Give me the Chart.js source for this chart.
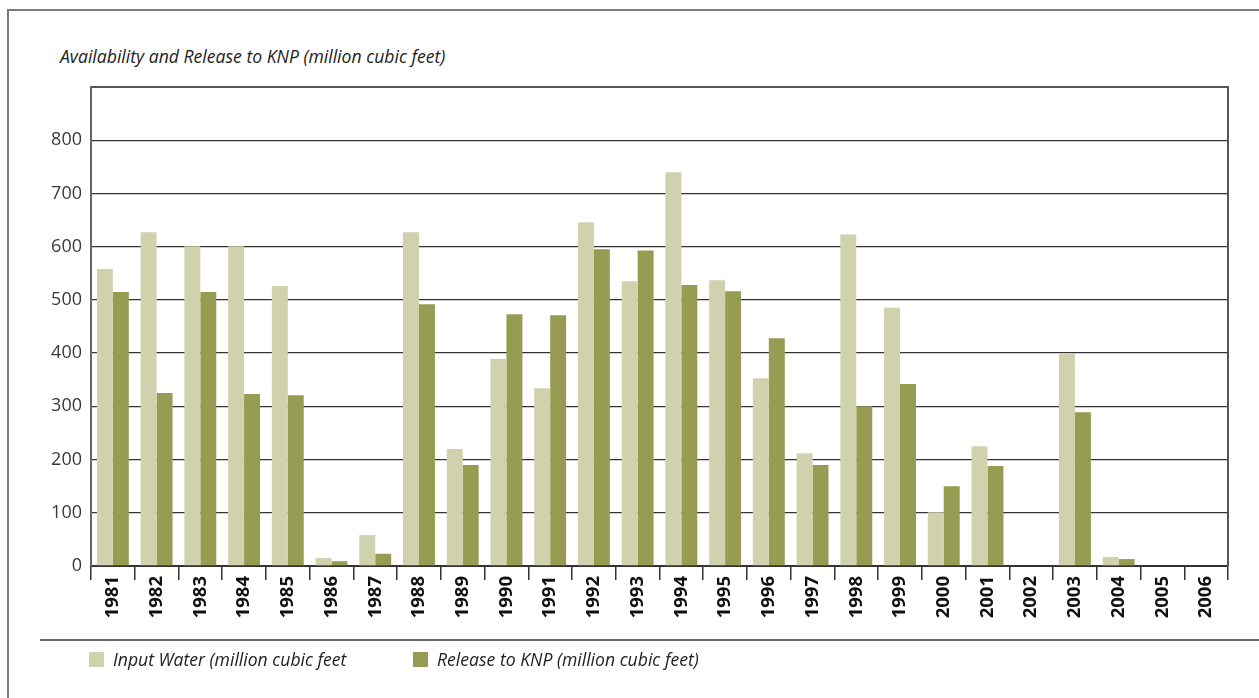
<!DOCTYPE html>
<html>
<head>
<meta charset="utf-8">
<script src="https://cdn.jsdelivr.net/npm/chart.js@4.4.0/dist/chart.umd.min.js"></script>
<style>
    body { margin: 0; background: #fff; font-family: "Open Sans", sans-serif; }
    .page { position: relative; width: 1259px; height: 698px; overflow: hidden; }
    .frame { position: absolute; left: 7px; top: 9px; width: 1260px; height: 700px;
             border-left: 2px solid #7a7a7a; border-top: 2px solid #7a7a7a; }
    .title { position: absolute; left: 60px; top: 45px; font-size: 17.6px; line-height: 22px;
             font-style: italic; color: #222; white-space: nowrap; }
    .sep { position: absolute; left: 40px; top: 639px; width: 1219px; height: 0;
           border-top: 2px solid #6a6a6a; }
    .legend-item { position: absolute; top: 648px; font-size: 17.6px; line-height: 22px;
                   font-style: italic; color: #222; white-space: nowrap; }
    .legend-item span { position: absolute; left: 0; top: 4px; width: 15px; height: 15px; }
    .legend-item b { font-weight: normal; position: absolute; left: 24px; top: 0; }
    .chart-box { position: absolute; left: 0; top: 0; width: 1259px; height: 698px; }
</style>
</head>
<body>
<div class="page">
    <div class="frame"></div>
    <div class="title">Availability and Release to KNP (million cubic feet)</div>
    <div class="chart-box"><canvas id="chart"></canvas></div>
    <div class="sep"></div>
    <div class="legend-item" id="leg1" style="left:89px"><span></span><b></b></div>
    <div class="legend-item" id="leg2" style="left:413px"><span></span><b></b></div>
</div>
<script>
// 年份
const years = ['1981', '1982', '1983', '1984', '1985', '1986', '1987', '1988', '1989', '1990',
    '1991', '1992', '1993', '1994', '1995', '1996', '1997', '1998', '1999', '2000',
    '2001', '2002', '2003', '2004', '2005', '2006'];

// 进水量
const inputWater = [558, 627, 601, 601, 526, 15, 58, 627, 220, 389,
    334, 646, 535, 740, 537, 353, 212, 623, 485, 101,
    225, 0, 400, 17, 0, 0];

// 放水量
const releaseKNP = [515, 325, 515, 323, 321, 9, 23, 492, 190, 473,
    471, 595, 593, 528, 516, 428, 190, 300, 342, 150,
    188, 0, 289, 13, 0, 0];

// Y轴刻度
const yTicks = [0, 100, 200, 300, 400, 500, 600, 700, 800];
const yMax = 900;

const seriesNames = ['Input Water (million cubic feet', 'Release to KNP (million cubic feet)'];
const seriesColors = ['#d0d2ae', '#969d52'];

// 图例
['leg1', 'leg2'].forEach((id, i) => {
    const el = document.getElementById(id);
    el.querySelector('span').style.background = seriesColors[i];
    el.querySelector('b').textContent = seriesNames[i];
});

// 画上边框和右边框
const plotFrame = {
    id: 'plotFrame',
    afterDraw(chart) {
        const { ctx, chartArea: a } = chart;
        ctx.save();
        ctx.strokeStyle = '#555';
        ctx.lineWidth = 2;
        ctx.beginPath();
        ctx.moveTo(a.left, a.top);
        ctx.lineTo(a.right, a.top);
        ctx.lineTo(a.right, a.bottom);
        ctx.stroke();
        ctx.restore();
    }
};

new Chart(document.getElementById('chart'), {
    type: 'bar',
    data: {
        labels: years,
        datasets: [
            { label: seriesNames[0], data: inputWater, backgroundColor: seriesColors[0] },
            { label: seriesNames[1], data: releaseKNP, backgroundColor: seriesColors[1] }
        ]
    },
    options: {
        responsive: true,
        maintainAspectRatio: false,
        animation: false,
        datasets: { bar: { categoryPercentage: 0.73, barPercentage: 1.0, borderWidth: 0 } },
        layout: { padding: { left: 0, top: 87, right: 31, bottom: 72 } },
        plugins: { legend: { display: false }, tooltip: { enabled: false } },
        scales: {
            x: {
                afterFit(scale) { scale.height = 60; },
                grid: { offset: true, drawOnChartArea: false, drawTicks: true, tickLength: 14,
                        color: '#333', lineWidth: 1.5 },
                border: { color: '#333', width: 2 },
                ticks: { autoSkip: false, maxRotation: 90, minRotation: 90, padding: -4,
                         color: '#111', font: { family: 'Open Sans', size: 18.5, weight: 'bold' } }
            },
            y: {
                min: 0,
                max: yMax,
                afterFit(scale) { scale.width = 91; },
                afterBuildTicks(scale) { scale.ticks = yTicks.concat([yMax]).map(v => ({ value: v })); },
                grid: {
                    drawTicks: false,
                    color: c => (c.tick && c.tick.value === yMax) ? 'rgba(0,0,0,0)' : '#333',
                    lineWidth: 1.3
                },
                border: { color: '#666', width: 2 },
                ticks: {
                    padding: 9,
                    color: '#3a3a3a',
                    font: { family: 'Open Sans', size: 18 },
                    callback: v => (v === yMax ? '' : v)
                }
            }
        }
    },
    plugins: [plotFrame]
});
</script>
</body>
</html>
